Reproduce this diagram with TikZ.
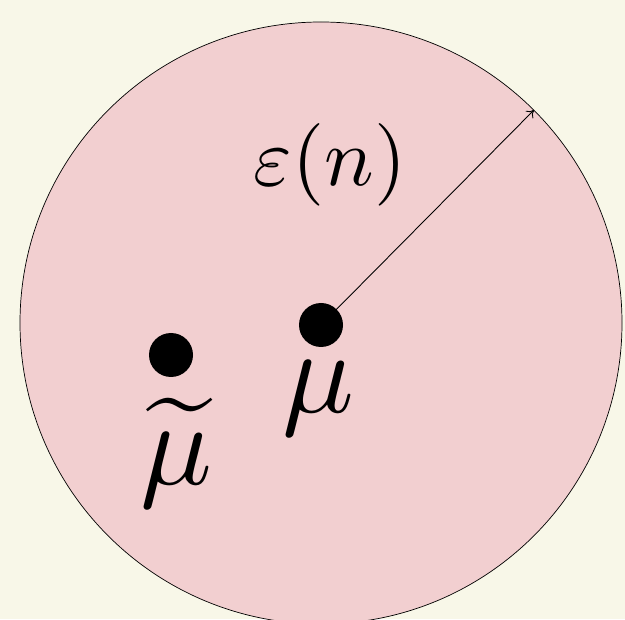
\documentclass[tikz,border=0pt]{standalone}
\usepackage{amsmath}
\usetikzlibrary{arrows.meta}
\definecolor{paper}{RGB}{248,247,232}
\definecolor{ballpink}{RGB}{242,207,208}
\tikzset{
  dot/.style={circle, fill=black, inner sep=0pt, minimum size=0.88cm},
  lbl/.style={inner sep=0pt}
}
\begin{document}
\begin{tikzpicture}
            \fill[paper] (0,0) rectangle (12.5,12.38);
            \useasboundingbox (0,0) rectangle (12.5,12.38);
            \begin{scope}
            \clip (0,0) rectangle (12.5,12.38);
            \node[circle, draw=black, fill=ballpink, line width=0.4pt, inner sep=0pt, minimum size=12.04cm] (ball) at (6.42,5.92) {};
            \end{scope}
            \node[dot] (mu) at (6.42,5.88) {};
            \node[dot] (mut) at (3.42,5.28) {};
            \node[lbl, scale=6.8] (mulabel) at (6.36,4.42) {$\mu$};
            \node[lbl, scale=6.8] (mutlabel) at (3.52,3.33) {$\widetilde{\mu}$};
            \node[lbl, scale=4.7] (eps) at (6.6,9.08) {$\varepsilon(n)$};
            \draw[-{To[length=4pt,width=6pt]}, line width=0.5pt] (mu.center) to (ball.45);
        \end{tikzpicture}
\end{document}
